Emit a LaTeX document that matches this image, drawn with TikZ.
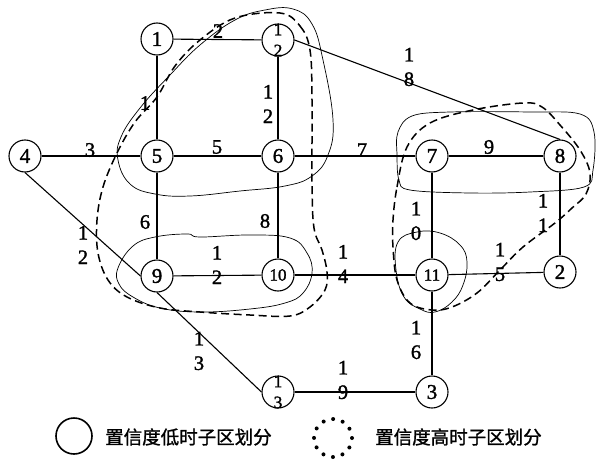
\documentclass[tikz,border=0pt]{standalone}
\usepackage{fontspec}
\setmainfont{Liberation Serif}[FakeBold=1.5]
\newfontfamily\cjkfont{Noto Sans CJK SC}[FakeBold=1.2]
\begin{document}
\begin{tikzpicture}[x=1pt,y=-1pt,
  vtx/.style={draw,circle,line width=1.1pt,minimum size=32pt,inner sep=0pt,font=\fontsize{21}{24}\selectfont},
  vtxs/.style={vtx,font=\fontsize{17}{20}\selectfont},
  stk/.style={inner sep=0pt,align=center,font=\fontsize{17.5}{21}\selectfont},
  elab/.style={inner sep=0pt,align=center,font=\fontsize{20.5}{24.5}\selectfont},
  edge/.style={line width=1.1pt},
  low/.style={line width=0.7pt},
  high/.style={line width=1.5pt,dash pattern=on 8pt off 4.5pt},
  legtxt/.style={anchor=west,inner sep=0pt,font=\cjkfont\fontsize{18.5}{22}\selectfont}
]
\useasboundingbox (0,0) rectangle (596,460);

% vertices
\node[vtx] (n1) at (157,39) {1};
\node[vtx] (n12) at (278,40) {};
\node[stk] (n12t) at (278,40) {1\\2};
\node[vtx] (n4) at (25,156) {4};
\node[vtx] (n5) at (157,156) {5};
\node[vtx] (n6) at (278,156) {6};
\node[vtx] (n7) at (432,156) {7};
\node[vtx] (n8) at (560,156) {8};
\node[vtx] (n9) at (157,276) {9};
\node[vtxs] (n10) at (278,275) {10};
\node[vtxs] (n11) at (432,275) {11};
\node[vtx] (n2) at (560,272) {2};
\node[vtx] (n13) at (278,392) {};
\node[stk] (n13t) at (278,392) {1\\3};
\node[vtx] (n3) at (432,392) {3};

% edges
\draw[edge] (n1) -- (n12);
\draw[edge] (n1) -- (n5);
\draw[edge] (n12) -- (n6);
\draw[edge] (n12.east) -- (n8.north);
\draw[edge] (n4) -- (n5);
\draw[edge] (n5) -- (n6);
\draw[edge] (n6) -- (n7);
\draw[edge] (n7) -- (n8);
\draw[edge] (n5) -- (n9);
\draw[edge] (n6) -- (n10);
\draw[edge] (n7) -- (n11);
\draw[edge] (n8) -- (n2);
\draw[edge] (n4.south) -- (n9.west);
\draw[edge] (n9) -- (n10);
\draw[edge] (n10) -- (n11);
\draw[edge] (n11) -- (n2);
\draw[edge] (n9.south) -- (n13.west);
\draw[edge] (n11) -- (n3);
\draw[edge] (n13) -- (n3);

% edge labels
\node[elab] (e1) at (218,31) {2};
\node[elab] (e2) at (145,103) {1};
\node[elab] (e3) at (268,104) {1\\2};
\node[elab] (e4) at (90,150) {3};
\node[elab] (e5) at (217,147) {5};
\node[elab] (e7) at (362,150) {7};
\node[elab] (e9) at (489,147) {9};
\node[elab] (e18) at (409,67) {1\\8};
\node[elab] (e6) at (145,222) {6};
\node[elab] (e8) at (265,221) {8};
\node[elab] (e11) at (543,213) {1\\1};
\node[elab] (e10) at (416,221) {1\\0};
\node[elab] (e12a) at (83,245) {1\\2};
\node[elab] (e12b) at (217,265) {1\\2};
\node[elab] (e14) at (343,264) {1\\4};
\node[elab] (e15) at (500,262) {1\\5};
\node[elab] (e13) at (199,351) {1\\3};
\node[elab] (e16) at (416,340) {1\\6};
\node[elab] (e19) at (343,380) {1\\9};

% low-confidence sub-areas (thin solid)
\draw[low] plot[smooth cycle,tension=0.7] coordinates {
  (293,9) (312,24) (323,60) (333,120) (328,155) (312,176) (285,186) (240,191)
  (190,196) (155,194) (130,184) (118,160) (121,137) (140,108) (170,75) (200,45)
  (235,20) (265,10)};
\draw[low] plot[smooth cycle,tension=0.6] coordinates {
  (398,132) (412,116) (450,112) (530,112) (580,114) (594,132) (593,170) (584,187)
  (530,192) (470,193) (410,190) (399,180) (397,155)};
\draw[low] plot[smooth cycle,tension=0.7] coordinates {
  (118,268) (133,246) (155,237) (187,234) (200,237) (250,235) (290,238) (307,253)
  (312,273) (303,293) (285,303) (250,309) (200,312) (160,308) (133,297) (119,284)};
\draw[low] plot[smooth cycle,tension=0.7] coordinates {
  (398,242) (417,232) (440,233) (460,245) (467,262) (463,285) (452,302) (435,312)
  (420,309) (404,297) (396,270)};

% high-confidence sub-areas (dashed)
\draw[high] plot[smooth cycle,tension=0.6] coordinates {
  (280,13) (300,26) (310,50) (312,100) (312,183) (314,228) (322,250) (327,272)
  (325,290) (310,307) (290,316) (250,315) (200,312) (160,308) (127,297) (108,280)
  (98,253) (97,220) (103,187) (117,153) (135,122) (157,97) (175,66) (200,40)
  (235,18)};
\draw[high] plot[smooth cycle,tension=0.6] coordinates {
  (393,220) (397,187) (407,147) (430,123) (473,110) (523,103) (542,107) (560,125)
  (580,150) (590,173) (586,194) (572,208) (555,223) (523,247) (500,270) (477,293)
  (452,307) (432,310) (410,303) (397,280) (393,247)};

% legend
\draw[line width=1.6pt] (74,436) circle[radius=18];
\node[legtxt] (t1) at (105,437) {置信度低时子区划分};
\draw[line width=4pt,line cap=round,dash pattern=on 0pt off 9.95pt] (333,438) circle[radius=19];
\node[legtxt] (t2) at (375,437) {置信度高时子区划分};
\end{tikzpicture}
\end{document}
